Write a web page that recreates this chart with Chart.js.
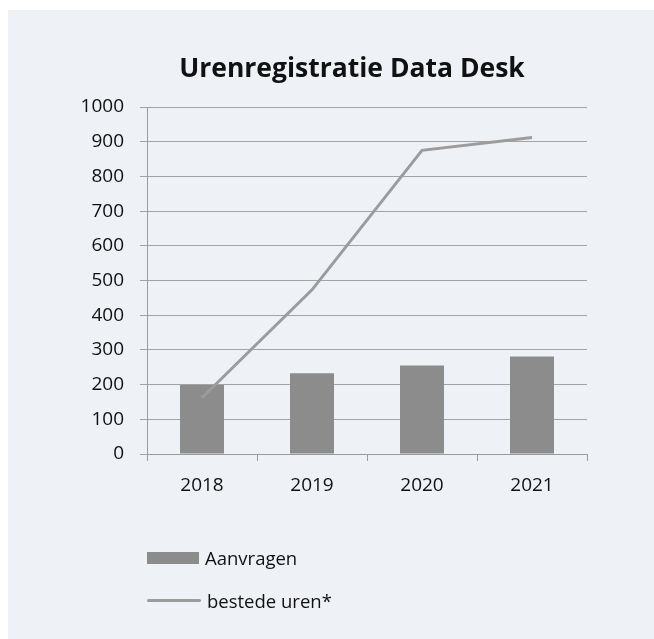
<!DOCTYPE html>
<html>
<head>
<meta charset="utf-8">
<script src="https://cdn.jsdelivr.net/npm/chart.js@4"></script>
<style>
  html, body { margin: 0; padding: 0; background: #ffffff; }
  #wrap { position: relative; width: 654px; height: 639px; overflow: hidden; }
  #bg { position: absolute; left: 8px; top: 10px; width: 646px; height: 629px; background: #eef1f6; }
  #c { position: absolute; left: 0; top: 0; }
  #title { position: absolute; left: 0; width: 704px; top: 52px; text-align: center; font-family: "Open Sans", sans-serif; font-weight: bold; font-size: 26.5px; line-height: 31px; color: #111111; }
  .leg { position: absolute; left: 147px; font-family: "Open Sans", sans-serif; font-size: 18.5px; color: #111111; display: flex; align-items: center; }
  .leg .sw { display: inline-block; margin-right: 6px; }
</style>
</head>
<body>
<div id="wrap">
  <div id="bg"></div>
  <canvas id="c" width="654" height="639"></canvas>
  <div id="title"></div>
  <div class="leg" style="top:545px;"><span class="sw" style="width:52px;height:12px;background:#8c8c8c;"></span><span id="l1"></span></div>
  <div class="leg" style="top:588px;"><span class="sw" style="width:54px;height:3px;background:#9c9c9c;border-radius:2px;"></span><span id="l2"></span></div>
</div>
<script>
const categories = ["2018", "2019", "2020", "2021"];
const aanvragen = [199, 233, 255, 281];
const bestedeUren = [162, 473, 875, 912];
const seriesNames = ["Aanvragen", "bestede uren*"];
const titleText = "Urenregistratie Data Desk";

document.getElementById('title').textContent = titleText;
document.getElementById('l1').textContent = seriesNames[0];
document.getElementById('l2').textContent = seriesNames[1];

const axisColor = '#9a9a9a';
const gridColor = '#a3a3a3';
const tickFont = { family: '"Open Sans", sans-serif', size: 19 };

new Chart(document.getElementById('c'), {
  type: 'bar',
  data: {
    labels: categories,
    datasets: [
      {
        type: 'line',
        label: seriesNames[1],
        data: bestedeUren,
        borderColor: '#9c9c9c',
        backgroundColor: '#9c9c9c',
        borderWidth: 3,
        pointRadius: 0,
        tension: 0,
        order: 1
      },
      {
        type: 'bar',
        label: seriesNames[0],
        data: aanvragen,
        backgroundColor: '#8c8c8c',
        borderWidth: 0,
        categoryPercentage: 1,
        barPercentage: 0.4,
        order: 2
      }
    ]
  },
  options: {
    responsive: false,
    animation: false,
    events: [],
    layout: { padding: { left: 0, right: 67, top: 107, bottom: 0 } },
    plugins: {
      legend: { display: false },
      tooltip: { enabled: false },
      title: { display: false }
    },
    scales: {
      x: {
        offset: true,
        grid: { display: true, drawOnChartArea: false, drawTicks: true, tickLength: 7, color: axisColor, offset: true },
        border: { display: true, color: axisColor, width: 1 },
        ticks: { color: '#111111', font: tickFont, padding: 13 },
        afterFit: (s) => { s.height = 185; }
      },
      y: {
        min: 0,
        max: 1000,
        grid: { color: gridColor, lineWidth: 1, drawTicks: true, tickLength: 7 },
        border: { display: true, color: axisColor, width: 1 },
        ticks: { stepSize: 100, color: '#111111', font: tickFont, padding: 16, callback: (v) => String(v) },
        afterFit: (s) => { s.width = 147; }
      }
    }
  }
});
</script>
</body>
</html>
